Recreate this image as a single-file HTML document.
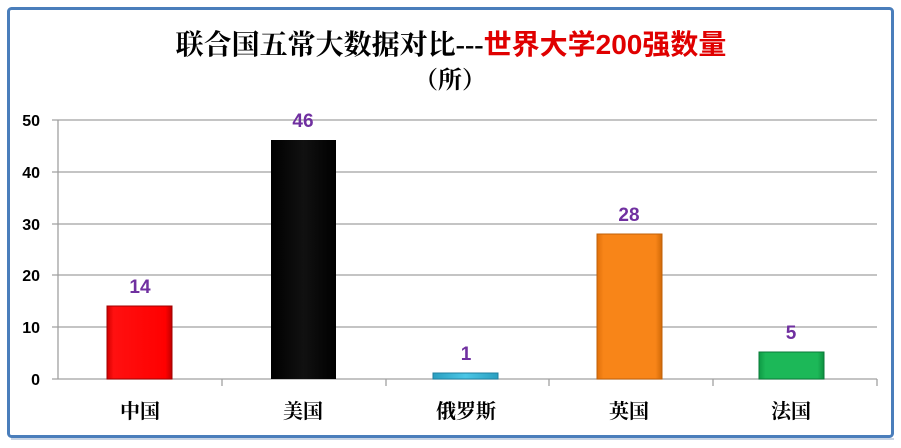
<!DOCTYPE html>
<html><head><meta charset="utf-8"><style>
html,body{margin:0;padding:0;background:#fff;width:901px;height:448px;overflow:hidden}
</style></head><body>
<svg width="901" height="448" xmlns="http://www.w3.org/2000/svg" font-family="'Liberation Sans','Noto Sans CJK SC',sans-serif">
<defs>
<linearGradient id="r" x1="0" x2="1"><stop offset="0" stop-color="#d00000"/><stop offset="0.1" stop-color="#ff1010"/><stop offset="0.9" stop-color="#ff0000"/><stop offset="1" stop-color="#c00000"/></linearGradient>
<linearGradient id="k" x1="0" x2="1"><stop offset="0" stop-color="#000"/><stop offset="0.5" stop-color="#111"/><stop offset="1" stop-color="#000"/></linearGradient>
<linearGradient id="c" x1="0" x2="1"><stop offset="0" stop-color="#2a9fc0"/><stop offset="0.5" stop-color="#4bc6e6"/><stop offset="1" stop-color="#2a9fc0"/></linearGradient>
<linearGradient id="o" x1="0" x2="1"><stop offset="0" stop-color="#e0700a"/><stop offset="0.1" stop-color="#f88518"/><stop offset="0.9" stop-color="#f88518"/><stop offset="1" stop-color="#d06a08"/></linearGradient>
<linearGradient id="g" x1="0" x2="1"><stop offset="0" stop-color="#0e9a45"/><stop offset="0.1" stop-color="#1cb858"/><stop offset="0.9" stop-color="#1cb858"/><stop offset="1" stop-color="#0e9040"/></linearGradient>
</defs>
<rect x="8.5" y="8.5" width="884" height="428" rx="3" fill="#fff" stroke="#4a7ebb" stroke-width="3"/>
<line x1="11" y1="439" x2="894" y2="439" stroke="#c8d4e4" stroke-width="2"/>
<text x="451" y="54" text-anchor="middle" font-size="28" font-weight="bold"><tspan fill="#000" font-family="'Liberation Serif','Noto Serif CJK SC',serif">联合国五常大数据对比---</tspan><tspan fill="#e00000">世界大学200强数量</tspan></text>
<text x="450" y="88" text-anchor="middle" font-size="24" font-weight="bold" font-family="'Liberation Serif','Noto Serif CJK SC',serif">（所）</text>
<g stroke="#a0a0a0" stroke-width="1.3">
<line x1="52" y1="120" x2="877" y2="120"/><line x1="52" y1="172" x2="877" y2="172"/><line x1="52" y1="224" x2="877" y2="224"/><line x1="52" y1="275" x2="877" y2="275"/><line x1="52" y1="327" x2="877" y2="327"/><line x1="52" y1="379" x2="877" y2="379"/>
<line x1="58" y1="120" x2="58" y2="379"/>
<line x1="222" y1="379" x2="222" y2="386"/><line x1="386" y1="379" x2="386" y2="386"/><line x1="549" y1="379" x2="549" y2="386"/><line x1="713" y1="379" x2="713" y2="386"/><line x1="877" y1="379" x2="877" y2="386"/>
</g>
<g font-size="16" font-weight="bold" text-anchor="end" fill="#000">
<text x="40" y="126">50</text><text x="40" y="178">40</text><text x="40" y="230">30</text><text x="40" y="281">20</text><text x="40" y="333">10</text><text x="40" y="385">0</text>
</g>
<rect x="107" y="306" width="65" height="73" fill="url(#r)" stroke="#a00000"/>
<rect x="271" y="140" width="65" height="239" fill="url(#k)"/>
<rect x="433" y="373" width="65" height="6" fill="url(#c)" stroke="#2080a0"/>
<rect x="597" y="234" width="65" height="145" fill="url(#o)" stroke="#c06008"/>
<rect x="759" y="352" width="65" height="27" fill="url(#g)" stroke="#0a7a38"/>
<g font-size="19" font-weight="bold" fill="#7030a0" text-anchor="middle">
<text x="140" y="293">14</text><text x="303" y="127">46</text><text x="466" y="360">1</text><text x="629" y="221">28</text><text x="791" y="339">5</text>
</g>
<g font-size="20" font-weight="bold" fill="#000" text-anchor="middle" font-family="'Liberation Serif','Noto Serif CJK SC',serif">
<text x="140" y="418">中国</text><text x="303" y="418">美国</text><text x="466" y="418">俄罗斯</text><text x="629" y="418">英国</text><text x="791" y="418">法国</text>
</g>
</svg>
</body></html>
